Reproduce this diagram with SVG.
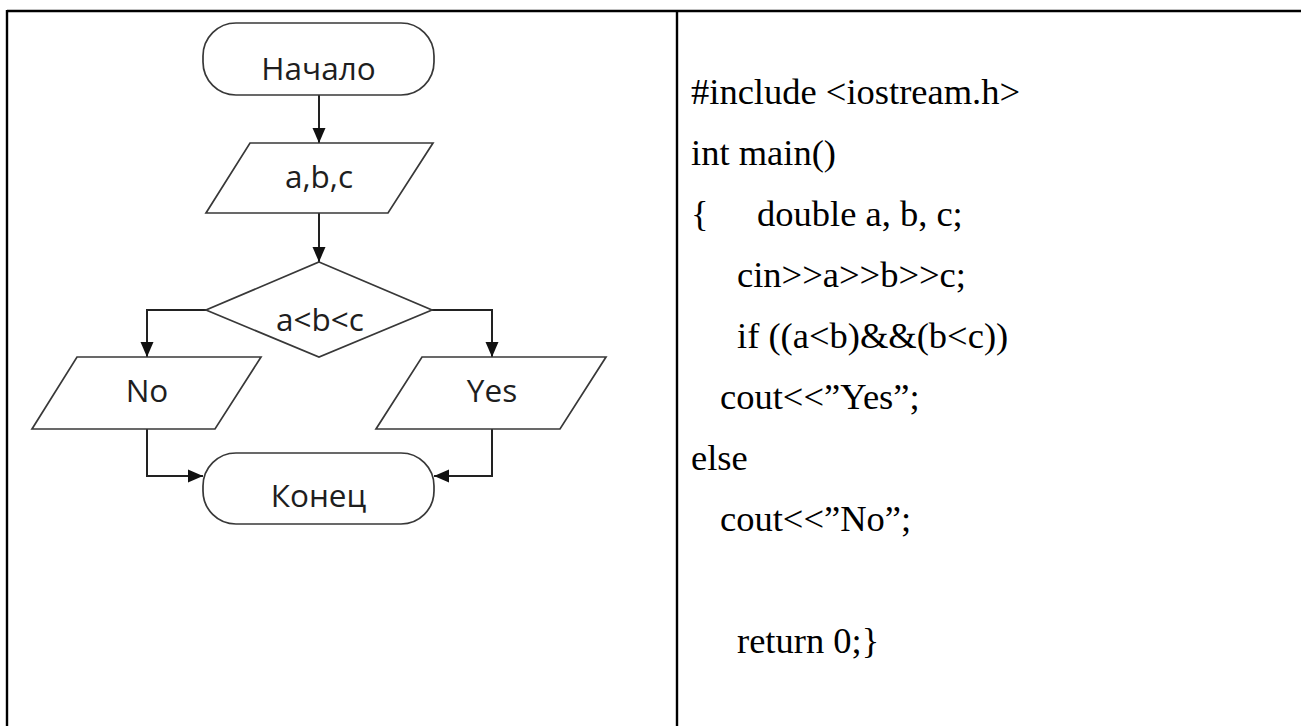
<svg xmlns="http://www.w3.org/2000/svg" width="1301" height="726" viewBox="0 0 1301 726">
  <style>
    .shape { fill: #ffffff; stroke: #383838; stroke-width: 1.7; }
    .label { font-family: "Open Sans", "Noto Sans", sans-serif; font-size: 31.5px; fill: #1e1e1e; text-anchor: middle; }
    .wire { fill: none; stroke: #222222; stroke-width: 2; }
    .grid { stroke: #000000; stroke-width: 2.4; fill: none; }
    .code { font-family: "Liberation Serif", "Times New Roman", serif; font-size: 36.5px; fill: #000000; }
  </style>
  <defs>
    <marker id="arrow" markerWidth="15" markerHeight="14" refX="15" refY="7" orient="auto" markerUnits="userSpaceOnUse">
      <path d="M0,0.5 L15,7 L0,13.5 Z" fill="#111111"/>
    </marker>
  </defs>

  <rect width="1301" height="726" fill="#ffffff"/>

  <!-- table frame -->
  <g id="table">
    <line class="grid" x1="7" y1="11" x2="1301" y2="11"/>
    <line class="grid" x1="7" y1="10" x2="7" y2="726"/>
    <line class="grid" x1="677" y1="10" x2="677" y2="726"/>
  </g>

  <!-- flowchart connectors -->
  <g id="connectors">
    <line class="wire" x1="319" y1="95" x2="319" y2="143" marker-end="url(#arrow)"/>
    <line class="wire" x1="319" y1="213" x2="319" y2="262" marker-end="url(#arrow)"/>
    <polyline class="wire" points="206,310 147,310 147,357" marker-end="url(#arrow)"/>
    <polyline class="wire" points="432,310 492,310 492,357" marker-end="url(#arrow)"/>
    <polyline class="wire" points="147,429 147,476 203,476" marker-end="url(#arrow)"/>
    <polyline class="wire" points="492,429 492,476 434,476" marker-end="url(#arrow)"/>
  </g>

  <g id="start">
    <rect class="shape" x="203" y="23" width="231" height="72" rx="33" ry="33"/>
    <text class="label" x="318.5" y="80">Начало</text>
  </g>

  <g id="input">
    <polygon class="shape" points="250,143 433,143 388,213 206,213"/>
    <text class="label" x="319" y="188">a,b,c</text>
  </g>

  <g id="decision">
    <polygon class="shape" points="319,262 432,310 319,357 206,310"/>
    <text class="label" x="320" y="331">a&lt;b&lt;c</text>
  </g>

  <g id="out-no">
    <polygon class="shape" points="77,357 261,357 215,429 32,429"/>
    <text class="label" x="147" y="402">No</text>
  </g>

  <g id="out-yes">
    <polygon class="shape" points="422,357 606,357 560,429 376,429"/>
    <text class="label" x="492" y="402">Yes</text>
  </g>

  <g id="end">
    <rect class="shape" x="203" y="453" width="231" height="71" rx="33" ry="33"/>
    <text class="label" x="318.5" y="507">Конец</text>
  </g>

  <!-- program listing -->
  <g id="listing" class="code">
    <text x="691" y="104">#include &lt;iostream.h&gt;</text>
    <text x="691" y="165">int main()</text>
    <text y="226"><tspan x="691">{</tspan><tspan x="757">double a, b, c;</tspan></text>
    <text x="737" y="287">cin&gt;&gt;a&gt;&gt;b&gt;&gt;c;</text>
    <text x="737" y="348">if ((a&lt;b)&amp;&amp;(b&lt;c))</text>
    <text x="720" y="409">cout&lt;&lt;”Yes”;</text>
    <text x="691" y="470">else</text>
    <text x="720" y="531">cout&lt;&lt;”No”;</text>
    <text x="737" y="653">return 0;}</text>
  </g>
</svg>
